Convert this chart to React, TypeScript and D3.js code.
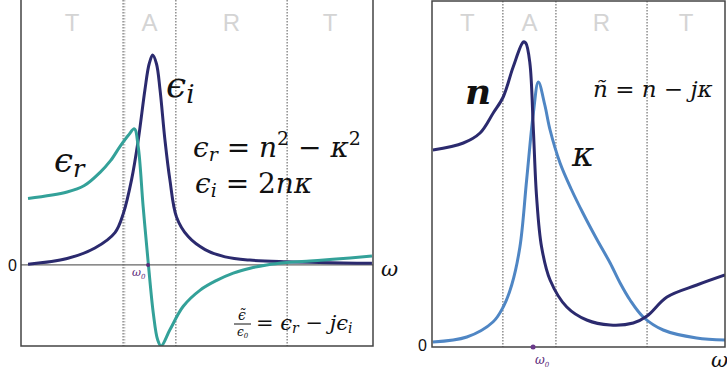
import React from "react";
import * as d3 from "d3";

// ---- left panel: permittivity (omega in 0..10, value in eps units) ----
const epsOmega = [0.2, 1.31, 2.1, 2.67, 2.91, 3.14, 3.33, 3.52, 3.64, 3.74, 3.85, 3.95, 4.09, 4.23, 4.42, 4.75, 5.23, 5.8, 6.5, 7.56, 9.97];
const epsI = [0.01, 0.08, 0.21, 0.4, 0.64, 1.05, 1.54, 2.16, 2.48, 2.59, 2.48, 2.16, 1.54, 1.05, 0.59, 0.35, 0.19, 0.1, 0.06, 0.04, 0.02];

const epsROmega = [0.2, 1.31, 1.8, 2.24, 2.55, 2.81, 3.05, 3.22, 3.33, 3.47, 3.62, 3.76, 3.88, 3.98, 4.23, 4.61, 5.09, 5.56, 6.03, 6.51, 6.98, 7.55, 8.21, 8.86, 9.97];
const epsR = [0.82, 0.9, 0.98, 1.14, 1.29, 1.46, 1.6, 1.68, 1.46, 0.72, 0.0, -0.6, -0.92, -1.0, -0.8, -0.51, -0.31, -0.19, -0.1, -0.04, 0.0, 0.03, 0.05, 0.07, 0.11];

const epsZones = [2.9, 4.4, 7.56];
const epsOmega0 = 3.61;

// ---- right panel: refractive index ----
const nOmega = [0.03, 1.07, 1.64, 2.09, 2.43, 2.77, 3.12, 3.2, 3.34, 3.46, 3.57, 3.74, 4.03, 4.6, 5.28, 6.08, 6.87, 7.34, 8.02, 9.04, 10];
const nVals = [1.97, 2.04, 2.14, 2.34, 2.5, 2.8, 3.05, 3.04, 2.84, 2.17, 1.5, 1.0, 0.67, 0.4, 0.27, 0.22, 0.24, 0.31, 0.5, 0.62, 0.72];

const kOmega = [0.03, 1.19, 2.08, 2.43, 2.72, 3.0, 3.23, 3.46, 3.63, 3.85, 4.03, 4.37, 4.75, 5.15, 5.62, 6.08, 6.42, 6.76, 7.21, 7.89, 9.03, 10];
const kVals = [0.05, 0.1, 0.25, 0.4, 0.62, 1.0, 1.67, 2.34, 2.65, 2.42, 2.17, 1.84, 1.58, 1.34, 1.08, 0.84, 0.64, 0.47, 0.3, 0.17, 0.09, 0.07];

const nZones = [2.42, 4.23, 7.34];
const nOmega0 = 3.45;

const zoneLabels = ["T", "A", "R", "T"];

const navy = "#2b2a6e";
const teal = "#33a199";
const skyBlue = "#4f86c4";
const mathFont = "'DejaVu Serif', serif";
const sansFont = "'Liberation Sans', Arial, sans-serif";

export default function App() {
  // left panel scales
  const xL = d3.scaleLinear().domain([0, 10]).range([21, 373]);
  const yL = d3.scaleLinear().domain([-1, 3.27]).range([346, 0]);
  // right panel scales
  const xR = d3.scaleLinear().domain([0, 10]).range([432, 725]);
  const yR = d3.scaleLinear().domain([0, 3.47]).range([347, 0]);

  const lineL = d3
    .line<[number, number]>()
    .x((d) => xL(d[0]))
    .y((d) => yL(d[1]))
    .curve(d3.curveCatmullRom.alpha(0.5));
  const lineR = d3
    .line<[number, number]>()
    .x((d) => xR(d[0]))
    .y((d) => yR(d[1]))
    .curve(d3.curveCatmullRom.alpha(0.5));

  const zip = (xs: number[], ys: number[]) => xs.map((x, i) => [x, ys[i]] as [number, number]);

  const zoneCenters = (zones: number[]) => {
    const edges = [0, ...zones, 10];
    return zoneLabels.map((_, i) => (edges[i] + edges[i + 1]) / 2);
  };

  return (
    <svg
      width={727}
      height={373}
      style={{ position: "absolute", left: 0, top: 0, background: "#fff" }}
    >
      <defs>
        <clipPath id="clipL">
          <rect x={xL(0)} y={0} width={xL(10) - xL(0)} height={yL(-1)} />
        </clipPath>
        <clipPath id="clipR">
          <rect x={xR(0)} y={0} width={xR(10) - xR(0)} height={yR(0)} />
        </clipPath>
      </defs>

      {/* ===== left panel ===== */}
      <g>
        {zoneCenters(epsZones).map((c, i) => (
          <text key={i} x={xL(c)} y={31} textAnchor="middle" fontFamily={sansFont} fontSize={24} fill="#d4d4d4">
            {zoneLabels[i]}
          </text>
        ))}
        {epsZones.map((z, i) => (
          <line key={i} x1={xL(z)} x2={xL(z)} y1={0} y2={yL(-1)} stroke="#555" strokeWidth={1} strokeDasharray="1.5,1.5" />
        ))}
        <line x1={xL(2.9) + 1.7} x2={xL(2.9) + 1.7} y1={0} y2={yL(-1)} stroke="#999" strokeWidth={0.8} strokeDasharray="1.5,1.5" />
        <line x1={xL(0)} x2={xL(10)} y1={yL(0)} y2={yL(0)} stroke="#666" strokeWidth={1.2} />
        <g clipPath="url(#clipL)">
          <path d={lineL(zip(epsOmega, epsI)) ?? ""} fill="none" stroke={navy} strokeWidth={3} />
          <path d={lineL(zip(epsROmega, epsR)) ?? ""} fill="none" stroke={teal} strokeWidth={3} />
        </g>
        <circle cx={xL(epsOmega0)} cy={yL(0)} r={2} fill="#5a2a7a" />
        <polyline
          points={`${xL(0)},0 ${xL(0)},${yL(-1)} ${xL(10)},${yL(-1)} ${xL(10)},0`}
          fill="none"
          stroke="#444"
          strokeWidth={1.5}
        />
        <text x={8} y={271} fontFamily={sansFont} fontSize={16} fill="#111">0</text>
        <text x={381} y={276} fontFamily={mathFont} fontStyle="italic" fontSize={21} fill="#111">ω</text>
        <text x={132} y={276} fontFamily={mathFont} fontStyle="italic" fontSize={11} fill="#5a2a7a">
          ω<tspan fontSize={7} dy={3}>0</tspan>
        </text>

        <text x={166} y={97} fontFamily={mathFont} fontStyle="italic" fontSize={36} fill="#111">
          ϵ<tspan fontSize={26} dy={6}>i</tspan>
        </text>
        <text x={54} y={172} fontFamily={mathFont} fontStyle="italic" fontSize={34} fill="#111">
          ϵ<tspan fontSize={24} dy={5}>r</tspan>
        </text>
        <text x={193} y={157} fontFamily={mathFont} fontSize={28} fill="#111">
          <tspan fontStyle="italic">ϵ</tspan>
          <tspan fontStyle="italic" fontSize={19} dy={4}>r</tspan>
          <tspan dy={-4}> = </tspan>
          <tspan fontStyle="italic">n</tspan>
          <tspan fontSize={19} dy={-12}>2</tspan>
          <tspan dy={12}> − </tspan>
          <tspan fontStyle="italic">κ</tspan>
          <tspan fontSize={19} dy={-12}>2</tspan>
        </text>
        <text x={195} y={193} fontFamily={mathFont} fontSize={28} fill="#111">
          <tspan fontStyle="italic">ϵ</tspan>
          <tspan fontStyle="italic" fontSize={19} dy={4}>i</tspan>
          <tspan dy={-4}> = 2</tspan>
          <tspan fontStyle="italic">nκ</tspan>
        </text>
        {/* fraction eps~ / eps0 */}
        <text x={242} y={320} textAnchor="middle" fontFamily={mathFont} fontStyle="italic" fontSize={14} fill="#111">ϵ̃</text>
        <line x1={234} x2={251} y1={324} y2={324} stroke="#111" strokeWidth={1} />
        <text x={237} y={336} fontFamily={mathFont} fontStyle="italic" fontSize={12} fill="#111">
          ϵ<tspan fontSize={7} dy={2}>0</tspan>
        </text>
        <text x={256} y={330} fontFamily={mathFont} fontSize={21} fill="#111">
          <tspan>= </tspan>
          <tspan fontStyle="italic">ϵ</tspan>
          <tspan fontStyle="italic" fontSize={14} dy={3}>r</tspan>
          <tspan dy={-3}> − </tspan>
          <tspan fontStyle="italic">jϵ</tspan>
          <tspan fontStyle="italic" fontSize={14} dy={3}>i</tspan>
        </text>
      </g>

      {/* ===== right panel ===== */}
      <g>
        {zoneCenters(nZones).map((c, i) => (
          <text key={i} x={xR(c)} y={31} textAnchor="middle" fontFamily={sansFont} fontSize={24} fill="#d4d4d4">
            {zoneLabels[i]}
          </text>
        ))}
        {nZones.map((z, i) => (
          <line key={i} x1={xR(z)} x2={xR(z)} y1={1} y2={yR(0)} stroke="#555" strokeWidth={1} strokeDasharray="1.5,1.5" />
        ))}
        <g clipPath="url(#clipR)">
          <path d={lineR(zip(kOmega, kVals)) ?? ""} fill="none" stroke={skyBlue} strokeWidth={3} />
          <path d={lineR(zip(nOmega, nVals)) ?? ""} fill="none" stroke={navy} strokeWidth={3} />
        </g>
        <rect x={xR(0)} y={1} width={xR(10) - xR(0)} height={yR(0) - 1} fill="none" stroke="#444" strokeWidth={1.5} />
        <circle cx={xR(nOmega0)} cy={yR(0)} r={2.5} fill="#6a3a8a" />
        <text x={418} y={351} fontFamily={sansFont} fontSize={16} fill="#111">0</text>
        <text x={711} y={367} fontFamily={mathFont} fontStyle="italic" fontSize={21} fill="#111">ω</text>
        <text x={535} y={364} fontFamily={mathFont} fontStyle="italic" fontSize={12} fill="#5a2a7a">
          ω<tspan fontSize={7} dy={3}>0</tspan>
        </text>
        <text x={465} y={104} fontFamily={mathFont} fontStyle="italic" fontWeight="bold" fontSize={36} fill="#111">n</text>
        <text x={572} y={166} fontFamily={mathFont} fontStyle="italic" fontSize={34} fill="#111">κ</text>
        <text x={593} y={97} fontFamily={mathFont} fontSize={23} fill="#111">
          <tspan fontStyle="italic">ñ</tspan>
          <tspan> = </tspan>
          <tspan fontStyle="italic">n</tspan>
          <tspan> − </tspan>
          <tspan fontStyle="italic">jκ</tspan>
        </text>
      </g>
    </svg>
  );
}
